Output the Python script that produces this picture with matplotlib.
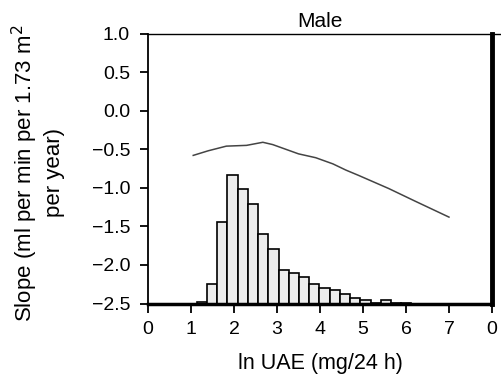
import numpy as np
import matplotlib.pyplot as plt
from matplotlib.lines import Line2D

plt.rcParams["font.family"] = ["Liberation Sans", "DejaVu Sans"]

# slope curve (ml/min per 1.73 m2 per year) against ln UAE
curve_x = [1.05, 1.4, 1.82, 2.29, 2.67, 2.90, 3.2, 3.5, 3.9, 4.3, 4.6, 4.9, 5.6, 6.2, 7.0]
curve_y = [-0.58, -0.52, -0.46, -0.45, -0.41, -0.44, -0.50, -0.56, -0.61,
           -0.69, -0.77, -0.84, -1.01, -1.17, -1.38]

# histogram of ln UAE, bar tops read on the slope axis (baseline -2.5)
hist_start = 1.13
hist_width = 0.238
hist_tops = [-2.48, -2.25, -1.44, -0.84, -1.01, -1.21, -1.60, -1.79, -2.06, -2.10,
             -2.15, -2.25, -2.30, -2.33, -2.38, -2.43, -2.46, -2.49, -2.46, -2.49, -2.49]
baseline = -2.5

xticks = [0, 1, 2, 3, 4, 5, 6, 7, 8]
xticklabels = ["0", "1", "2", "3", "4", "5", "6", "7", "0"]
yticks = [1.0, 0.5, 0.0, -0.5, -1.0, -1.5, -2.0, -2.5]

fig = plt.figure(figsize=(5.02, 3.8), dpi=100)
ax = fig.add_axes([0.295, 0.2013, 0.685, 0.7105])

lefts = hist_start + hist_width * np.arange(len(hist_tops))
heights = np.array(hist_tops) - baseline
ax.bar(lefts, heights, width=hist_width, bottom=baseline, align="edge",
       color="#ececec", edgecolor="black", linewidth=1.2, zorder=2)
ax.plot(curve_x, curve_y, color="#444444", lw=1.1, zorder=3)

ax.set_xlim(0, 8)
ax.set_ylim(-2.5, 1.0)
ax.set_xticks(xticks)
ax.set_xticklabels(xticklabels)
ax.set_yticks(yticks)
ax.set_yticklabels([f"{v:.1f}".replace("-", "\u2212") for v in yticks])
ax.tick_params(axis="x", direction="out", length=6.5, width=1.3, labelsize=14, pad=6)
ax.tick_params(axis="y", direction="out", length=6, width=1.3, labelsize=14, pad=7)

ax.spines["left"].set_linewidth(1.3)
ax.spines["top"].set_linewidth(1.0)
ax.spines["bottom"].set_linewidth(2.5)
ax.spines["right"].set_linewidth(3.5)

ax.set_title("Male", fontsize=15, pad=5)
ax.set_xlabel("ln UAE (mg/24 h)", fontsize=15.5, labelpad=11)

fig.text(0.075, 0.545, "Slope (ml per min per 1.73 m$^2$\nper year)", fontsize=16,
         rotation=90, ha="center", va="center", multialignment="center",
         linespacing=1.25)

# top border of the neighbouring panel
fig.add_artist(Line2D([0.98, 1.0], [0.9118, 0.9118], color="black", lw=1.0,
                      transform=fig.transFigure))

fig.savefig("out.png", dpi=100)
plt.close(fig)
